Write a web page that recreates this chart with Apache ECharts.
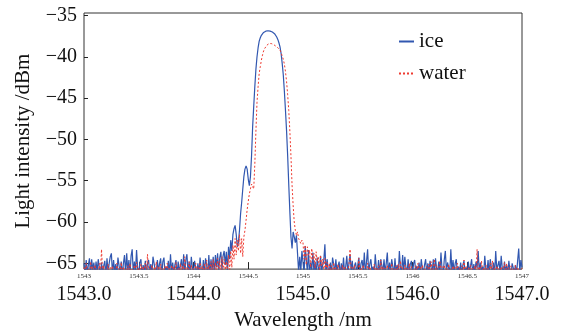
<!DOCTYPE html>
<html>
<head>
<meta charset="utf-8">
<script src="https://cdn.jsdelivr.net/npm/echarts@6/dist/echarts.min.js"></script>
<style>
  html, body { margin: 0; padding: 0; background: #fff; }
  #chart { width: 565px; height: 336px; }
</style>
</head>
<body>
<div id="chart"></div>
<script>
// spectrum sampled every 0.01 nm from 1543.00 to 1547.00
const waveStart = 1543.0
const waveStep = 0.01

// ice, dBm
const iceLevel = [
  -65.0, -66.4, -64.6, -66.2, -65.2, -64.4, -66.5, -64.5, -65.8, -64.9,
  -66.3, -64.8, -66.0, -64.5, -65.6, -66.4, -64.9, -66.2, -65.3, -64.7,
  -66.5, -64.4, -66.1, -65.0, -64.2, -63.8, -66.3, -64.6, -66.0, -65.1,
  -66.4, -64.3, -64.2, -66.2, -64.8, -66.5, -65.0, -64.0, -66.3, -63.8,
  -66.0, -64.6, -66.4, -64.1, -63.3, -66.2, -64.8, -66.0, -63.4, -65.6,
  -66.3, -64.9, -64.5, -66.4, -65.2, -66.1, -64.7, -66.5, -65.0, -64.6,
  -66.2, -65.1, -66.4, -64.2, -64.3, -65.8, -66.3, -64.6, -66.0, -65.0,
  -64.4, -66.5, -64.8, -64.3, -66.2, -65.4, -66.0, -64.7, -66.4, -63.9,
  -66.1, -64.9, -66.3, -65.2, -64.6, -66.5, -64.8, -66.0, -65.3, -64.5,
  -66.2, -63.9, -66.4, -64.6, -63.9, -66.1, -64.8, -66.3, -64.2, -65.5,
  -66.0, -64.7, -64.5, -66.4, -65.0, -66.2, -64.3, -65.8, -66.3, -64.6,
  -66.1, -64.4, -65.2, -66.5, -64.0, -66.2, -64.5, -65.9, -64.2, -66.3,
  -64.0, -65.5, -63.8, -66.0, -64.3, -63.6, -65.8, -64.1, -63.5, -65.2,
  // 1544.30
  -63.6, -66.0, -63.0, -64.5, -62.2, -63.5, -61.5, -60.8, -60.4, -61.5,
  -63.0, -62.5, -61.0, -59.0, -57.6, -56.0, -54.5, -53.6, -53.2, -53.6,
  -54.8, -55.6, -54.5, -52.0, -48.5, -46.0, -43.6, -41.5, -40.0, -38.9,
  -38.1, -37.7, -37.4, -37.2, -37.05, -36.95, -36.9, -36.85, -36.85, -36.85,
  -36.9, -36.95, -37.0, -37.1, -37.2, -37.4, -37.6, -37.9, -38.3, -38.8,
  -39.6, -40.8, -42.2, -44.2, -46.5, -49.0, -52.0, -55.5, -58.8, -61.8,
  -63.2, -61.2, -61.8, -62.5, -61.6, -63.8, -66.0, -64.2, -66.0, -63.5,
  // 1545.00
  -63.5, -66.2, -62.9, -64.6, -66.0, -63.4, -66.3, -64.9, -65.8, -63.7,
  -66.1, -64.8, -66.4, -64.3, -65.5, -66.2, -64.1, -66.0, -65.2, -64.6,
  -62.7, -66.3, -64.5, -65.7, -66.0, -64.9, -66.4, -64.3, -65.1, -66.2,
  -64.5, -66.0, -65.3, -64.8, -66.5, -65.0, -66.1, -64.3, -66.3, -65.4,
  -64.1, -66.2, -65.0, -63.9, -66.0, -64.7, -66.4, -65.3, -64.9, -66.1,
  -65.2, -64.3, -66.3, -65.0, -64.6, -66.0, -63.7, -66.4, -64.8, -63.3,
  -66.2, -65.1, -64.5, -66.0, -65.4, -66.3, -63.9, -65.6, -66.1, -64.6,
  -66.4, -64.5, -65.3, -66.0, -64.5, -66.2, -65.0, -63.7, -66.3, -64.9,
  -66.0, -64.5, -65.4, -66.4, -64.4, -66.1, -65.2, -66.3, -63.5, -65.5,
  -66.2, -64.0, -66.0, -64.2, -65.5, -66.3, -64.5, -66.1, -65.1, -64.7,
  -66.4, -65.0, -64.6, -66.2, -65.3, -66.0, -64.9, -66.3, -64.5, -65.6,
  -66.1, -65.2, -64.5, -66.4, -65.0, -66.2, -64.7, -65.5, -66.0, -64.5,
  -66.3, -64.4, -65.6, -66.0, -64.8, -66.2, -63.7, -65.8, -66.4, -64.6,
  -63.5, -66.1, -64.9, -65.5, -66.3, -63.3, -66.0, -64.6, -66.2, -65.0,
  -64.5, -66.3, -65.4, -66.0, -64.9, -66.4, -65.2, -64.7, -66.1, -65.5,
  -66.2, -64.8, -66.0, -65.3, -64.5, -66.3, -65.1, -66.1, -64.8, -65.6,
  -63.5, -66.2, -64.9, -66.0, -65.4, -66.3, -64.1, -65.7, -66.0, -64.6,
  -66.3, -64.5, -65.5, -66.1, -64.9, -66.4, -63.5, -65.8, -66.0, -64.7,
  -66.2, -64.1, -65.6, -66.3, -64.8, -66.0, -65.3, -66.2, -64.7, -65.9,
  -66.4, -65.0, -64.9, -66.1, -65.2, -66.3, -64.7, -63.2, -66.0, -64.6,
  -65.5
]

// water, dBm
const waterLevel = [
  -65.5, -66.3, -65.0, -66.1, -65.6, -66.4, -64.8, -66.0, -65.4, -66.3,
  -65.2, -66.0, -65.7, -66.4, -65.0, -66.2, -63.3, -66.0, -65.3, -66.4,
  -65.6, -66.1, -65.1, -66.3, -65.5, -66.0, -65.3, -66.4, -65.8, -66.1,
  -65.0, -66.3, -65.6, -66.0, -64.9, -66.4, -65.4, -66.1, -65.7, -66.2,
  -65.3, -66.0, -65.0, -66.3, -65.6, -66.1, -65.2, -66.4, -64.9, -66.0,
  -65.5, -66.2, -65.1, -66.0, -65.4, -66.3, -65.0, -66.1, -63.9, -66.2,
  -65.6, -66.0, -65.2, -66.4, -65.5, -66.1, -64.8, -66.3, -65.4, -66.0,
  -65.1, -66.2, -65.6, -66.0, -65.3, -66.4, -65.0, -66.1, -65.5, -66.3,
  -65.2, -66.0, -65.4, -66.3, -64.9, -66.1, -65.6, -66.4, -65.0, -66.2,
  -65.3, -66.0, -64.2, -66.3, -65.5, -66.1, -64.8, -66.4, -65.2, -66.0,
  -65.6, -66.2, -65.0, -66.1, -65.4, -66.3, -64.9, -66.0, -65.3, -66.4,
  -65.0, -66.1, -64.6, -66.3, -65.2, -66.0, -64.8, -66.2, -64.5, -66.4,
  -64.9, -66.0, -64.4, -66.2, -64.7, -65.9, -64.2, -66.3, -64.5, -65.8,
  // 1544.30
  -64.8, -66.0, -64.0, -66.0, -63.5, -65.5, -62.8, -64.5, -62.0, -64.0,
  -62.2, -63.5, -61.5, -63.8, -62.0, -64.2, -61.8, -61.0, -59.8, -58.5,
  -57.5, -56.6, -56.0, -55.4, -55.6, -56.0, -53.0, -49.0, -45.5, -43.6,
  -42.0, -41.2, -40.4, -39.8, -39.3, -39.0, -38.8, -38.6, -38.5, -38.4,
  -38.4, -38.4, -38.45, -38.5, -38.6, -38.7, -38.8, -38.9, -39.0, -39.2,
  -39.5, -39.9, -40.3, -40.9, -41.8, -43.0, -44.6, -46.5, -49.0, -52.0,
  -55.5, -58.0, -60.0, -61.0, -61.6, -61.2, -62.0, -61.8, -62.6, -62.2,
  // 1545.00
  -62.5, -64.5, -62.8, -65.2, -63.0, -64.0, -63.4, -65.5, -63.2, -64.6,
  -63.8, -65.6, -63.6, -64.8, -64.2, -66.0, -64.0, -65.3, -64.5, -66.2,
  -64.4, -65.8, -64.9, -66.3, -65.0, -66.0, -65.3, -66.4, -64.9, -66.1,
  -65.5, -66.3, -65.1, -66.0, -65.6, -66.4, -65.2, -66.1, -65.4, -66.2,
  -65.6, -66.1, -65.0, -63.3, -66.2, -65.5, -66.0, -65.2, -66.4, -65.7,
  -66.1, -64.4, -66.3, -65.5, -66.0, -65.2, -66.4, -65.6, -66.1, -65.0,
  -66.3, -65.4, -66.0, -65.7, -66.2, -65.1, -66.4, -65.5, -66.0, -65.3,
  -66.2, -64.6, -66.1, -65.4, -66.3, -65.6, -66.0, -65.2, -66.4, -65.5,
  -66.1, -65.0, -66.3, -65.6, -66.0, -65.3, -66.2, -65.1, -66.4, -64.7,
  -66.0, -65.5, -66.3, -65.2, -66.1, -65.6, -66.4, -65.0, -66.2, -65.4,
  -66.0, -65.7, -66.3, -65.3, -66.1, -65.0, -66.4, -65.5, -66.0, -65.2,
  -66.3, -65.6, -66.1, -65.4, -66.0, -65.1, -66.4, -64.8, -66.2, -65.5,
  -64.5, -66.0, -65.3, -66.3, -65.6, -64.7, -66.1, -65.4, -66.4, -65.2,
  -66.0, -65.5, -66.3, -65.1, -66.1, -65.6, -66.4, -65.3, -66.0, -65.5,
  -66.2, -65.0, -66.3, -65.6, -66.1, -65.3, -66.4, -64.6, -66.0, -65.4,
  -66.3, -65.5, -66.1, -65.2, -66.4, -65.6, -66.0, -65.3, -66.2, -63.3,
  -66.1, -65.4, -66.3, -64.7, -66.0, -65.5, -66.4, -65.2, -66.1, -65.6,
  -66.3, -65.0, -66.0, -64.7, -66.2, -65.5, -66.4, -65.3, -66.1, -65.6,
  -66.3, -65.4, -66.0, -65.6, -64.9, -66.2, -65.0, -66.4, -65.5, -66.1,
  -65.3, -66.3, -65.6, -66.0, -65.2, -66.4, -65.5, -66.1, -65.7, -66.2,
  -65.6
]

const seriesNames = ['ice', 'water']
const xLabelValues = [1543, 1544, 1545, 1546, 1547]
const xTickValues = [1543.5, 1544, 1544.5, 1545, 1545.5, 1546, 1546.5]
const xSmallLabels = [1543, 1543.5, 1544, 1544.5, 1545, 1545.5, 1546, 1546.5, 1547]
const yTickValues = [-65, -60, -55, -50, -45, -40, -35]

const font = "'Liberation Serif', 'DejaVu Serif', serif"

function toPairs(levels) {
  return levels.map((v, i) => [+(waveStart + i * waveStep).toFixed(2), v])
}

const chart = echarts.init(document.getElementById('chart'))

chart.setOption({
  animation: false,
  backgroundColor: '#fff',
  textStyle: { fontFamily: font },
  grid: {
    left: 84,
    right: 43,
    top: 13,
    bottom: 61,
    show: true,
    borderColor: '#333',
    borderWidth: 1
  },
  legend: {
    data: seriesNames,
    orient: 'vertical',
    left: 393,
    top: 26,
    itemWidth: 15,
    itemHeight: 14,
    itemGap: 11,
    itemStyle: { opacity: 0 },
    textStyle: { fontFamily: font, fontSize: 21, color: '#111' }
  },
  xAxis: [{
    type: 'value',
    min: 1543,
    max: 1547,
    interval: 0.5,
    name: 'Wavelength /nm',
    nameLocation: 'middle',
    nameGap: 32,
    nameTextStyle: { fontFamily: font, fontSize: 21, color: '#111' },
    axisLine: { show: false },
    axisTick: {
      show: true,
      inside: true,
      length: 7,
      customValues: xTickValues,
      lineStyle: { color: '#222' }
    },
    axisLabel: {
      customValues: xLabelValues,
      margin: 16,
      fontFamily: font,
      fontSize: 20,
      color: '#111',
      formatter: v => v.toFixed(1)
    },
    splitLine: { show: false }
  }, {
    type: 'value',
    position: 'bottom',
    min: 1543,
    max: 1547,
    interval: 0.5,
    axisLine: { show: false },
    axisTick: { show: false },
    axisLabel: {
      customValues: xSmallLabels,
      margin: 4,
      fontFamily: font,
      fontSize: 7,
      color: '#333',
      formatter: v => String(v)
    },
    splitLine: { show: false }
  }],
  yAxis: {
    type: 'value',
    min: -65.7,
    max: -34.7,
    name: 'Light intensity /dBm',
    nameLocation: 'middle',
    nameGap: 50,
    nameTextStyle: { fontFamily: font, fontSize: 21, color: '#111' },
    axisLine: { show: false },
    axisTick: {
      show: true,
      inside: true,
      length: 4,
      customValues: yTickValues,
      lineStyle: { color: '#222' }
    },
    axisLabel: {
      customValues: yTickValues,
      margin: 7,
      fontFamily: font,
      fontSize: 20,
      color: '#111',
      formatter: v => String(v).replace('-', '\u2212')
    },
    splitLine: { show: false }
  },
  series: [{
    name: seriesNames[0],
    type: 'line',
    symbol: 'none',
    showSymbol: false,
    sampling: null,
    clip: true,
    color: '#3157b0',
    lineStyle: { width: 1.2, color: '#3157b0' },
    data: toPairs(iceLevel)
  }, {
    name: seriesNames[1],
    type: 'line',
    symbol: 'none',
    showSymbol: false,
    clip: true,
    color: '#ee3a30',
    lineStyle: { width: 1, color: '#ee3a30', type: [2, 2] },
    data: toPairs(waterLevel)
  }]
})
</script>
</body>
</html>
